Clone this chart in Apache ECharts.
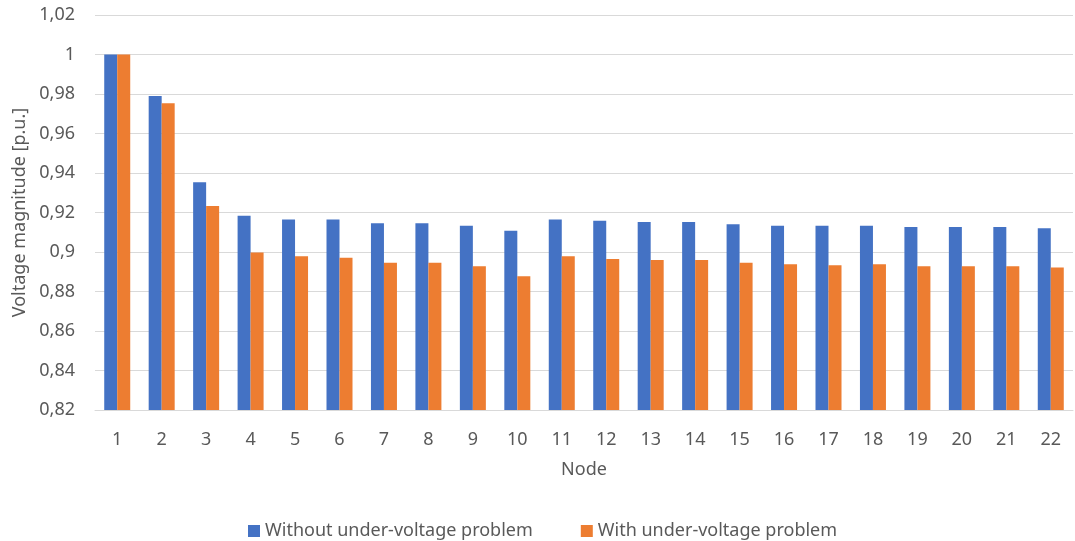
<!DOCTYPE html>
<html>
<head>
<meta charset="utf-8">
<script src="https://cdn.jsdelivr.net/npm/echarts@6/dist/echarts.min.js"></script>
<style>html,body{margin:0;padding:0;background:#fff}#c{width:1075px;height:541px}</style>
</head>
<body>
<div id="c"></div>
<script>
const nodes = ['1','2','3','4','5','6','7','8','9','10','11','12','13','14','15','16','17','18','19','20','21','22'];
const withoutUV = [1.0, 0.979, 0.9353, 0.9184, 0.9165, 0.9165, 0.9145, 0.9145, 0.9133, 0.9108, 0.9165, 0.9158, 0.9152, 0.9152, 0.914, 0.9133, 0.9133, 0.9133, 0.9127, 0.9127, 0.9127, 0.912];
const withUV = [1.0, 0.9753, 0.9233, 0.8997, 0.8978, 0.8971, 0.8946, 0.8946, 0.8928, 0.8877, 0.8978, 0.8965, 0.896, 0.896, 0.8946, 0.8938, 0.8933, 0.8938, 0.8928, 0.8928, 0.8928, 0.8921];
const seriesNames = ['Without under-voltage problem', 'With under-voltage problem'];
const yMin = 0.82, yMax = 1.02, yStep = 0.02;

const font = 'Noto Sans';
const fs = 18;
const txt = '#595959';
const chart = echarts.init(document.getElementById('c'), null, {renderer: 'canvas'});
chart.setOption({
  animation: false,
  textStyle: {fontFamily: font},
  grid: {left: 95, right: 2, top: 15, bottom: 131, containLabel: false},
  legend: {
    data: seriesNames,
    top: 517,
    left: 243,
    itemWidth: 12, itemHeight: 12, itemGap: 48,
    icon: 'rect',
    textStyle: {fontFamily: font, fontSize: fs, color: txt}
  },
  xAxis: {
    type: 'category',
    data: nodes,
    name: 'Node',
    nameLocation: 'middle',
    nameGap: 51,
    nameTextStyle: {fontFamily: font, fontSize: fs, color: txt},
    axisLine: {lineStyle: {color: '#d9d9d9', width: 1}},
    axisTick: {show: false},
    axisLabel: {fontFamily: font, fontSize: fs, color: txt, margin: 21}
  },
  yAxis: {
    type: 'value',
    min: yMin, max: yMax, interval: yStep,
    name: 'Voltage magnitude [p.u.]',
    nameLocation: 'middle',
    nameGap: 66,
    nameTextStyle: {fontFamily: font, fontSize: fs, color: txt},
    axisLine: {show: false},
    axisTick: {show: false},
    splitLine: {lineStyle: {color: '#d9d9d9', width: 1}},
    axisLabel: {
      fontFamily: font, fontSize: fs, color: txt, margin: 20,
      formatter: v => String(parseFloat(v.toFixed(2))).replace('.', ',')
    }
  },
  series: [
    {name: seriesNames[0], type: 'bar', data: withoutUV, barWidth: 13, barGap: '0%',
     itemStyle: {color: '#4472C4'}},
    {name: seriesNames[1], type: 'bar', data: withUV, barWidth: 13, barGap: '0%',
     itemStyle: {color: '#ED7D31'}}
  ]
});
</script>
</body>
</html>
